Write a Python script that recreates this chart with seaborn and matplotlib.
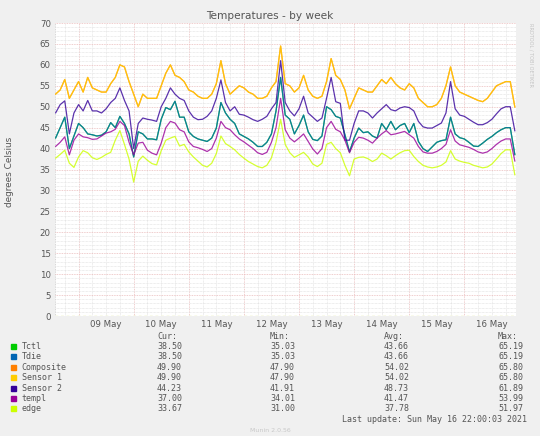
import matplotlib
matplotlib.use("Agg")
import numpy as np
import pandas as pd
import matplotlib.pyplot as plt
import matplotlib.dates as mdates
from matplotlib.ticker import MultipleLocator
from matplotlib.patches import Rectangle
import seaborn as sns

# samples every 2 hours, 08 May 14:00 -> 16 May 22:00
times = pd.date_range("2021-05-08 14:00", "2021-05-16 22:00", freq="2h")

sensor1 = [53, 54, 56.5, 52, 54,
           56, 53.5, 57, 54.5, 54, 53.5, 53.5, 55.5, 57, 60, 59.5, 56,
           53, 50, 53, 52, 52, 52, 55, 58, 60, 57.5, 57, 56,
           54, 53.5, 52.5, 52, 52, 53, 55.5, 61, 55.5, 53, 54, 55,
           54.5, 53.5, 53, 52, 52, 52.5, 54.5, 56, 64.5, 55.5, 55, 53.5,
           54.5, 57.5, 54, 52.5, 52, 52.5, 56, 61.5, 57.5, 56.5, 54, 49.5,
           52, 54.5, 54, 53.5, 53.5, 55, 56.5, 55.5, 57, 55.5, 54.5, 54,
           55.5, 54.5, 52, 51, 50, 50, 50.5, 52, 55, 59.5, 55, 53.5,
           53, 52.5, 52, 51.5, 51.2, 52, 53.5, 55, 55.5, 56, 56, 49.9]
sensor2 = [48.5, 50.5, 51.4, 43.5, 48.5,
           50.5, 49, 51.5, 49, 49, 48.5, 49.5, 51, 52, 54.5, 51.5, 49,
           40, 46, 47.3, 47, 46.8, 46.5, 50, 52, 54.5, 53, 52, 51.5,
           49, 47.5, 46.9, 47, 47.7, 49, 52, 56.4, 51, 49, 50, 48.2,
           48, 47.5, 46.9, 46.5, 47, 47.7, 49.5, 51, 61, 51, 49, 47.8,
           49.5, 52.5, 48.5, 47.5, 46.5, 47.3, 52, 57, 51.2, 50.8, 42, 42,
           46, 49, 49, 48.5, 47.3, 48.5, 49.5, 50.5, 49.3, 49, 49.7, 50,
           49.8, 49, 46.5, 45.2, 44.9, 44.9, 45.5, 46.1, 48.5, 56, 49.5, 48,
           47.7, 47, 46.3, 45.7, 45.7, 46.2, 47, 48.3, 49.5, 50, 50, 44.2]
tdie = [42.5, 45, 47.5, 40, 43,
        46, 45, 43.5, 43.3, 43, 43.2, 44, 46.2, 45, 47.7, 46, 43.5,
        38, 44, 43.5, 42.3, 42.3, 42.1, 47, 49.8, 49.3, 51.3, 47.5, 47.5,
        44, 42.9, 42.3, 42, 41.7, 42.5, 44.9, 51, 48.5, 47, 46, 43.5,
        42.9, 42.3, 41.5, 40.5, 40.5, 41.5, 43.5, 49, 57, 48, 47, 43.5,
        45.5, 48, 44, 42.2, 41.9, 43, 50, 49.3, 47.7, 47.3, 43.3, 39.2,
        42.5, 44.9, 43.8, 44, 43, 42.5, 46, 44.5, 46.5, 44.5, 45.5, 46,
        43.8, 46, 41.7, 40, 39.3, 40.4, 41.5, 41.9, 42.1, 47.5, 43.5, 42.6,
        42.3, 41.5, 40.6, 40.5, 41.3, 42.2, 42.9, 43.8, 44.5, 45, 45, 38.5]
templ = [40.5, 41.5, 42.8, 38.5, 42,
         43.5, 42.8, 42.6, 42.2, 42.3, 43, 43.7, 44, 44.6, 46.5, 45.5, 41.5,
         38.5, 41.3, 41.5, 39.6, 38.9, 38.5, 41.3, 45, 46.5, 46.1, 44.5, 44,
         41.6, 40.5, 40.2, 39.8, 39.3, 40, 42.5, 46.5, 45, 44.5, 43.3, 42.3,
         41.6, 40.8, 40, 39, 38.6, 39.1, 41.5, 45, 52, 44.5, 42.5, 41.6,
         42.5, 43.5, 41.7, 39.9, 38.7, 40, 45, 46.5, 44.6, 44, 42, 39,
         41.5, 42.7, 42.5, 42, 41.3, 42.5, 43.5, 44.3, 43.3, 43.5, 43.8, 44.1,
         43.3, 42.5, 40.5, 39.2, 38.9, 38.9, 39.3, 40, 41, 44.5, 41.8, 40.9,
         40.6, 40.3, 39.8, 39.2, 38.9, 39.2, 40, 41, 41.8, 42.3, 42.3, 37]
edge = [37.7, 38.6, 39.6, 36.5, 35.5,
        38, 39.5, 39, 37.8, 37.4, 37.9, 38.6, 39.1, 42, 44.3, 41, 37.5,
        32, 37, 38.2, 37.2, 36.4, 36.1, 39.5, 42, 42.5, 42.9, 40.6, 41,
        39.2, 38, 37, 36, 35.6, 36.5, 38.8, 43, 41.2, 40.5, 39.7, 38.6,
        37.7, 36.9, 36.3, 35.7, 35.4, 36, 37.8, 41.5, 47, 41, 39, 37.9,
        38.5, 39.1, 38, 36.3, 35.7, 36.5, 41, 41.5, 40, 39, 36, 33.5,
        37.5, 37.9, 38, 37.6, 36.9, 37.5, 38.9, 38.3, 37.5, 38.3, 39, 39.5,
        39.6, 38.1, 36.9, 36, 35.6, 35.4, 35.6, 36, 36.8, 39.5, 37.5, 37,
        36.7, 36.5, 36, 35.7, 35.4, 35.6, 36.3, 37.5, 38.8, 39.7, 39.7, 33.7]
# Tctl reads the same as Tdie, Composite the same as Sensor 1
tctl = list(tdie)
composite = list(sensor1)

names = ["Tctl", "Tdie", "Composite", "Sensor 1", "Sensor 2", "templ", "edge"]
colors = ["#00CC00", "#0066B3", "#FF8000", "#FFCC00", "#330099", "#990099", "#CCFF00"]
cur = ["38.50", "38.50", "49.90", "49.90", "44.23", "37.00", "33.67"]
mins = ["35.03", "35.03", "47.90", "47.90", "41.91", "34.01", "31.00"]
avgs = ["43.66", "43.66", "54.02", "54.02", "48.73", "41.47", "37.78"]
maxs = ["65.19", "65.19", "65.80", "65.80", "61.89", "53.99", "51.97"]

df = pd.DataFrame({"time": times, "Tctl": tctl, "Tdie": tdie, "Composite": composite,
                   "Sensor 1": sensor1, "Sensor 2": sensor2, "templ": templ, "edge": edge})
long = df.melt(id_vars="time", var_name="sensor", value_name="temp")

sns.set_style("white")
plt.rcParams["font.family"] = ["DejaVu Sans"]

W, H = 540, 436
fig = plt.figure(figsize=(W / 100, H / 100), dpi=100, facecolor="#f0f0f0")
ax = fig.add_axes([55 / W, 1 - 316 / H, (516 - 55) / W, (316 - 23) / H])
ax.set_facecolor("white")

sns.lineplot(data=long, x="time", y="temp", hue="sensor", hue_order=names,
             palette=dict(zip(names, colors)), linewidth=0.9, alpha=0.8,
             legend=False, ax=ax)

ax.set_xlim(pd.Timestamp("2021-05-08 13:45"), pd.Timestamp("2021-05-16 22:30"))
ax.set_ylim(0, 70)
ax.set_xlabel("")
ax.set_ylabel("")

minor_c = "#dcdcdc"
major_c = "#ebbcbc"
dot = (0, (1, 1))
ax.set_yticks(range(0, 71, 5))
ax.yaxis.set_minor_locator(MultipleLocator(1))
ax.grid(which="minor", axis="y", color=minor_c, lw=0.5, ls=dot)
ax.grid(which="major", axis="y", color=major_c, lw=0.6, ls=dot)

ax.xaxis.set_major_locator(mdates.HourLocator(byhour=[12]))
ax.xaxis.set_major_formatter(mdates.DateFormatter("%d %b"))
ax.xaxis.set_minor_locator(mdates.HourLocator(byhour=[6, 18]))
ax.grid(which="both", axis="x", color=minor_c, lw=0.5, ls=dot)
for d in pd.date_range("2021-05-09", "2021-05-16", freq="D"):
    ax.axvline(d, color=major_c, lw=0.6, ls=dot, zorder=0.5)
ax.axvline(ax.get_xlim()[0], color="#c8c8c8", lw=0.6, ls=dot, zorder=0.5)
ax.axhline(0, color="#e2ea98", lw=1.0, ls=(0, (2, 2)), zorder=1)
ax.set_axisbelow(True)

for s in ax.spines.values():
    s.set_visible(False)
ax.tick_params(which="both", length=0, labelsize=6.2, colors="#555555", pad=3)

fig.text(270 / W, 1 - 16 / H, "Temperatures - by week", ha="center", va="center",
         fontsize=7.6, color="#555555")
fig.text(10 / W, 1 - 172 / H, "degrees Celsius", rotation=90, ha="center", va="center",
         fontsize=6.4, color="#555555")
fig.text(531 / W, 1 - 55 / H, "RRDTOOL / TOBI OETIKER", rotation=270, ha="center",
         va="center", fontsize=3.6, color="#c4c4c4")

mono = dict(family="DejaVu Sans Mono", fontsize=6, color="#555555", va="center")
cols = [157, 270, 384, 498]
for cx, head in zip(cols, ["Cur:", "Min:", "Avg:", "Max:"]):
    fig.text(cx / W, 1 - 336 / H, head, **mono)
for i, name in enumerate(names):
    y = 346.5 + 10.4 * i
    fig.patches.append(Rectangle((11 / W, 1 - (y + 2.5) / H), 5 / W, 5 / H,
                                 transform=fig.transFigure, color=colors[i]))
    fig.text(21.5 / W, 1 - y / H, name, **mono)
    for cx, val in zip(cols, [cur[i], mins[i], avgs[i], maxs[i]]):
        fig.text(cx / W, 1 - y / H, val, **mono)
fig.text(527.5 / W, 1 - 419.5 / H, "Last update: Sun May 16 22:00:03 2021",
         ha="right", **mono)
fig.text(270 / W, 1 - 430 / H, "Munin 2.0.56", ha="center", va="center",
         fontsize=4.5, color="#c8c8c8")

fig.savefig("out.png", dpi=100, facecolor=fig.get_facecolor())
